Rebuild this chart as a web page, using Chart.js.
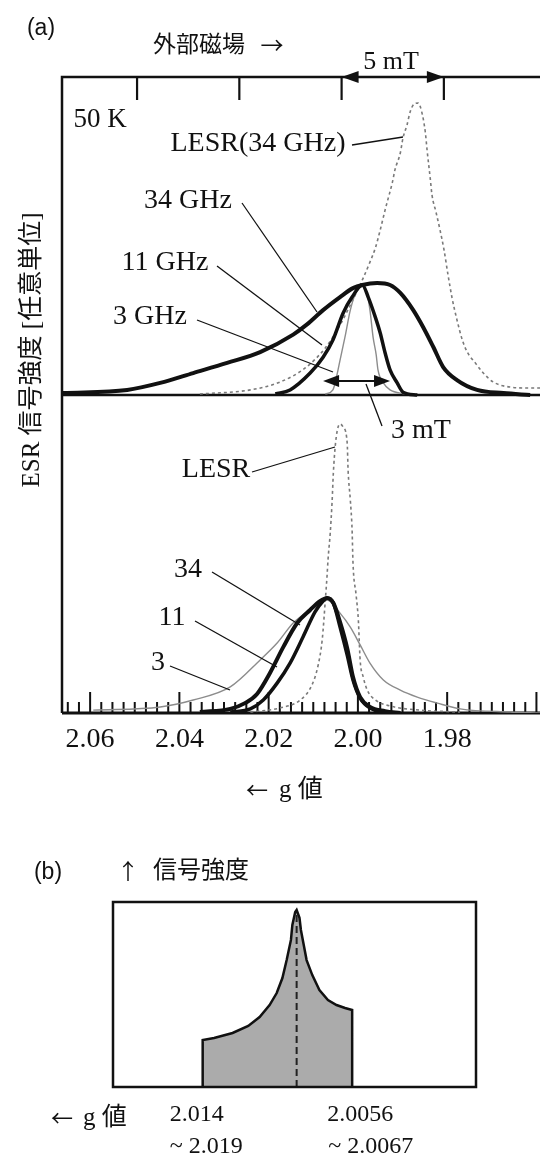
<!DOCTYPE html>
<html>
<head>
<meta charset="utf-8">
<script src="https://cdn.jsdelivr.net/npm/chart.js@4.4.1/dist/chart.umd.min.js"></script>
<style>
  body { margin: 0; background: #fff; }
  canvas { position: absolute; left: 0; }
  #chartA { top: 0; }
  #chartB { top: 820px; }
</style>
</head>
<body>
<canvas id="chartA" width="540" height="820"></canvas>
<canvas id="chartB" width="540" height="336"></canvas>
<script>
// (a) upper panel : g value / intensity (1 = top frame line)
let gLesrTop = [2.0354, 2.0241, 2.0174, 2.0118, 2.0073, 2.0040, 2.0017, 1.9990, 1.9973, 1.9961, 1.9950, 1.9939, 1.9932, 1.9923, 1.9917, 1.9905, 1.9899, 1.9890, 1.9883, 1.9874, 1.9865, 1.9858, 1.9849, 1.9845, 1.9838, 1.9834, 1.9825, 1.9816, 1.9807, 1.9798, 1.9789, 1.9778, 1.9766, 1.9755, 1.9737, 1.9719, 1.9697, 1.9659, 1.9614, 1.9592];
let vLesrTop = [0.003, 0.016, 0.041, 0.085, 0.148, 0.220, 0.283, 0.362, 0.418, 0.462, 0.519, 0.582, 0.619, 0.667, 0.708, 0.761, 0.808, 0.849, 0.890, 0.915, 0.918, 0.896, 0.827, 0.770, 0.682, 0.629, 0.575, 0.519, 0.456, 0.377, 0.305, 0.236, 0.173, 0.135, 0.101, 0.069, 0.041, 0.025, 0.022, 0.022];

let g34Top = [2.0661, 2.0517, 2.0443, 2.0369, 2.0293, 2.0219, 2.0145, 2.0114, 2.0078, 2.0040, 2.0011, 1.9990, 1.9957, 1.9928, 1.9905, 1.9876, 1.9854, 1.9831, 1.9809, 1.9778, 1.9733, 1.9674, 1.9614];
let v34Top = [0.006, 0.016, 0.038, 0.069, 0.101, 0.135, 0.190, 0.222, 0.267, 0.308, 0.336, 0.346, 0.352, 0.346, 0.321, 0.267, 0.214, 0.151, 0.088, 0.047, 0.016, 0.006, 0];

let g11Top = [2.0185, 2.0152, 2.0107, 2.0078, 2.0056, 2.0033, 2.0013, 1.9990, 1.9977, 1.9961, 1.9950, 1.9939, 1.9928, 1.9912, 1.9899, 1.9867];
let v11Top = [0.003, 0.016, 0.069, 0.119, 0.173, 0.258, 0.308, 0.346, 0.308, 0.245, 0.195, 0.132, 0.079, 0.038, 0.009, 0];

let g3Top = [2.0073, 2.0056, 2.0047, 2.0040, 2.0029, 2.0017, 2.0004, 1.9990, 1.9979, 1.9973, 1.9966, 1.9959, 1.9955, 1.9943, 1.9928, 1.9894];
let v3Top = [0.003, 0.016, 0.063, 0.110, 0.182, 0.267, 0.324, 0.346, 0.314, 0.267, 0.182, 0.126, 0.079, 0.038, 0.016, 0.003];

// (a) lower panel : intensity (1 = upper panel baseline)
let gLesrBot = [2.0241, 2.0174, 2.0129, 2.0103, 2.0089, 2.0080, 2.0073, 2.0069, 2.0067, 2.0062, 2.0058, 2.0055, 2.0051, 2.0046, 2.0040, 2.0033, 2.0024, 2.0022, 2.0017, 2.0013, 2.0011, 2.0004, 1.9999, 1.9995, 1.9988, 1.9979, 1.9961, 1.9928, 1.9861, 1.9771];
let vLesrBot = [0.003, 0.016, 0.041, 0.088, 0.151, 0.230, 0.355, 0.434, 0.481, 0.566, 0.660, 0.755, 0.836, 0.890, 0.909, 0.899, 0.849, 0.764, 0.670, 0.575, 0.472, 0.371, 0.292, 0.167, 0.113, 0.072, 0.041, 0.022, 0.009, 0.003];

let g34Bot = [2.0354, 2.0286, 2.0253, 2.0226, 2.0197, 2.0167, 2.0136, 2.0107, 2.0085, 2.0069, 2.0055, 2.0040, 2.0024, 2.0011, 1.9995, 1.9973, 1.9939, 1.9905];
let v34Bot = [0.003, 0.013, 0.031, 0.060, 0.126, 0.208, 0.283, 0.324, 0.352, 0.362, 0.346, 0.286, 0.204, 0.113, 0.050, 0.019, 0.006, 0];

let g11Bot = [2.0286, 2.0241, 2.0212, 2.0181, 2.0152, 2.0123, 2.0096, 2.0078, 2.0069, 2.0055, 2.0040, 2.0024, 2.0011, 1.9995, 1.9973, 1.9939, 1.9905];
let v11Bot = [0.003, 0.013, 0.041, 0.094, 0.157, 0.239, 0.318, 0.352, 0.362, 0.346, 0.270, 0.182, 0.104, 0.047, 0.016, 0.003, 0];

let g3Bot = [2.0593, 2.0443, 2.0369, 2.0286, 2.0219, 2.0181, 2.0145, 2.0107, 2.0069, 2.0040, 2.0017, 1.9995, 1.9973, 1.9943, 1.9905, 1.9867, 1.9822, 1.9771, 1.9659, 1.9592];
let v3Bot = [0.009, 0.019, 0.041, 0.082, 0.167, 0.220, 0.283, 0.324, 0.355, 0.314, 0.270, 0.214, 0.157, 0.104, 0.072, 0.050, 0.031, 0.013, 0.003, 0];

// axis ticks
let gTickLabels = [2.06, 2.04, 2.02, 2.00, 1.98];
let fieldTicks = [0, 5, 10, 15];   // mT offsets on top axis

// (b) powder pattern
let gShape = [2.0165, 2.0165, 2.0157, 2.0144, 2.0133, 2.0125, 2.0118, 2.0113, 2.0109, 2.0106, 2.0103, 2.0102, 2.0100, 2.0099, 2.0097, 2.0096, 2.0094, 2.0092, 2.0088, 2.0083, 2.0077, 2.0071, 2.0065, 2.0060, 2.0060];
let vShape = [0, 0.254, 0.265, 0.292, 0.330, 0.378, 0.443, 0.508, 0.589, 0.686, 0.795, 0.876, 0.946, 0.957, 0.914, 0.849, 0.768, 0.686, 0.605, 0.524, 0.470, 0.443, 0.427, 0.416, 0];
let gCenter = 2.0099;
let vCenter = [0, 0.93];

const SERIF = '"Liberation Serif", "Noto Sans CJK JP", serif';
const SANS = '"Liberation Sans", "Noto Sans CJK JP", sans-serif';
const CJK = '"Noto Sans CJK JP", sans-serif';
const INK = '#111';

function pts(gs, vs) {
  return gs.map((g, i) => ({ x: g, y: vs[i] }));
}

function curve(label, gs, vs, yAxis, color, width, dash) {
  return {
    label: label,
    data: pts(gs, vs),
    yAxisID: yAxis,
    borderColor: color,
    borderWidth: width,
    borderDash: dash || [],
    pointRadius: 0,
    fill: false,
    cubicInterpolationMode: 'monotone'
  };
}

function txt(ctx, s, x, y, size, family, align) {
  ctx.font = size + 'px ' + family;
  ctx.textAlign = align || 'center';
  ctx.textBaseline = 'middle';
  ctx.fillStyle = INK;
  ctx.fillText(s, x, y);
}

function seg(ctx, x1, y1, x2, y2) {
  ctx.beginPath();
  ctx.moveTo(x1, y1);
  ctx.lineTo(x2, y2);
  ctx.stroke();
}

function dblArrow(ctx, x1, x2, y, len, half) {
  ctx.lineWidth = 2.2;
  seg(ctx, x1 + len - 2, y, x2 - len + 2, y);
  ctx.beginPath();
  ctx.moveTo(x1, y); ctx.lineTo(x1 + len, y - half); ctx.lineTo(x1 + len, y + half); ctx.closePath();
  ctx.moveTo(x2, y); ctx.lineTo(x2 - len, y - half); ctx.lineTo(x2 - len, y + half); ctx.closePath();
  ctx.fill();
}

const frameA = {
  id: 'frameA',
  beforeDatasetsDraw(chart) {
    let ctx = chart.ctx;
    let a = chart.chartArea;
    let xG = chart.scales.x, xB = chart.scales.xB, yT = chart.scales.yTop;
    ctx.save();
    ctx.strokeStyle = INK;
    ctx.lineWidth = 2.5;
    ctx.beginPath();
    ctx.moveTo(a.left, a.bottom);
    ctx.lineTo(a.left, a.top);
    ctx.lineTo(a.right, a.top);
    ctx.stroke();
    // upper baseline
    ctx.lineWidth = 2.5;
    let y0 = yT.getPixelForValue(0);
    seg(ctx, a.left, y0, a.right, y0);
    // g axis
    ctx.lineWidth = 3;
    seg(ctx, a.left, a.bottom, a.right, a.bottom);
    ctx.lineWidth = 2;
    for (let i = 0; i <= 42; i++) {
      let g = 1.96 + i * 0.0025;
      let x = xG.getPixelForValue(g);
      if (x < a.left + 3) continue;
      let h = (i % 8 === 0) ? 21 : 11;
      seg(ctx, x, a.bottom, x, a.bottom - h);
    }
    // field ticks on top
    ctx.lineWidth = 2.2;
    fieldTicks.forEach(b => {
      let x = xB.getPixelForValue(b);
      seg(ctx, x, a.top, x, a.top + 23);
    });
    ctx.restore();
  },
  afterDatasetsDraw(chart) {
    let ctx = chart.ctx;
    let a = chart.chartArea;
    let xG = chart.scales.x, xB = chart.scales.xB;
    ctx.save();
    ctx.strokeStyle = INK;
    ctx.fillStyle = INK;

    // 5 mT arrow on the field axis
    dblArrow(ctx, xB.getPixelForValue(10), xB.getPixelForValue(15), a.top, 17, 6);
    // 3 mT arrow
    dblArrow(ctx, xG.getPixelForValue(2.0078), xG.getPixelForValue(1.9928), 381, 16, 6);

    // leaders
    ctx.lineWidth = 1.3;
    seg(ctx, 352, 145, 403, 137);
    seg(ctx, 242, 203, 317, 312);
    seg(ctx, 217, 266, 322, 345);
    seg(ctx, 197, 320, 333, 372);
    seg(ctx, 366, 384, 382, 426);
    seg(ctx, 252, 472, 335, 447);
    seg(ctx, 212, 572, 300, 625);
    seg(ctx, 195, 621, 277, 667);
    seg(ctx, 170, 666, 230, 690);

    txt(ctx, '(a)', 41, 29, 23, SANS);
    txt(ctx, '外部磁場', 199, 46, 23, SERIF);
    txt(ctx, '→', 272, 45, 23, CJK);
    txt(ctx, '5 mT', 391, 62, 26, SERIF);
    txt(ctx, '50 K', 100, 120, 27, SERIF);
    txt(ctx, 'LESR(34 GHz)', 258, 144, 28, SERIF);
    txt(ctx, '34 GHz', 188, 201, 28, SERIF);
    txt(ctx, '11 GHz', 165, 263, 28, SERIF);
    txt(ctx, '3 GHz', 150, 317, 28, SERIF);
    txt(ctx, '3 mT', 421, 431, 28, SERIF);
    txt(ctx, 'LESR', 216, 470, 28, SERIF);
    txt(ctx, '34', 188, 570, 28, SERIF);
    txt(ctx, '11', 172, 618, 28, SERIF);
    txt(ctx, '3', 158, 663, 28, SERIF);

    gTickLabels.forEach(g => {
      txt(ctx, g.toFixed(2), xG.getPixelForValue(g), a.bottom + 27, 28, SERIF);
    });
    txt(ctx, '←', 257, 790, 22, CJK);
    txt(ctx, 'g 値', 301, 790, 25, SERIF);

    ctx.save();
    ctx.translate(32, 350);
    ctx.rotate(-Math.PI / 2);
    txt(ctx, 'ESR 信号強度 [任意単位]', 0, 0, 25, SERIF);
    ctx.restore();
    ctx.restore();
  }
};

new Chart(document.getElementById('chartA'), {
  type: 'line',
  data: {
    datasets: [
      curve('34 GHz', g34Top, v34Top, 'yTop', INK, 4),
      curve('11 GHz', g11Top, v11Top, 'yTop', INK, 3.5),
      curve('3 GHz', g3Top, v3Top, 'yTop', '#8c8c8c', 1.4),
      curve('LESR(34 GHz)', gLesrTop, vLesrTop, 'yTop', '#7a7a7a', 1.6, [3, 3]),
      curve('34', g34Bot, v34Bot, 'yBot', INK, 4),
      curve('11', g11Bot, v11Bot, 'yBot', INK, 3.5),
      curve('3', g3Bot, v3Bot, 'yBot', '#8c8c8c', 1.4),
      curve('LESR', gLesrBot, vLesrBot, 'yBot', '#7a7a7a', 1.6, [3, 3])
    ]
  },
  options: {
    responsive: false,
    animation: false,
    layout: { padding: { left: 62, top: 77, right: 0, bottom: 107 } },
    plugins: { legend: { display: false }, tooltip: { enabled: false } },
    scales: {
      x: { type: 'linear', reverse: true, min: 1.9592, max: 2.0663, display: false },
      xB: { type: 'linear', position: 'top', min: -3.67, max: 19.70, display: false },
      yTop: { type: 'linear', min: -1, max: 1, display: false },
      yBot: { type: 'linear', min: 0, max: 2, display: false }
    }
  },
  plugins: [frameA]
});

const frameB = {
  id: 'frameB',
  afterDatasetsDraw(chart) {
    let ctx = chart.ctx;
    let a = chart.chartArea;
    let xG = chart.scales.x;
    ctx.save();
    ctx.strokeStyle = INK;
    ctx.lineWidth = 2.5;
    ctx.strokeRect(a.left, a.top, a.right - a.left, a.bottom - a.top);

    txt(ctx, '(b)', 48, 53, 23, SANS);
    txt(ctx, '↑', 128, 51, 22, CJK);
    txt(ctx, '信号強度', 201, 52, 24, SERIF);
    txt(ctx, '←', 62, 298, 22, CJK);
    txt(ctx, 'g 値', 105, 298, 25, SERIF);
    let xL = xG.getPixelForValue(gShape[0]);
    let xR = xG.getPixelForValue(gShape[gShape.length - 1]);
    txt(ctx, '2.014', xL - 33, 295, 24, SERIF, 'left');
    txt(ctx, '~ 2.019', xL - 33, 327, 24, SERIF, 'left');
    txt(ctx, '2.0056', xR - 25, 295, 24, SERIF, 'left');
    txt(ctx, '~ 2.0067', xR - 24, 327, 24, SERIF, 'left');
    ctx.restore();
  }
};

new Chart(document.getElementById('chartB'), {
  type: 'line',
  data: {
    datasets: [
      {
        label: 'center',
        data: vCenter.map(v => ({ x: gCenter, y: v })),
        borderColor: '#222',
        borderWidth: 2,
        borderDash: [7, 4],
        pointRadius: 0,
        fill: false
      },
      {
        label: 'powder',
        data: pts(gShape, vShape),
        borderColor: INK,
        borderWidth: 2.5,
        backgroundColor: '#ababab',
        pointRadius: 0,
        tension: 0,
        fill: 'origin'
      }
    ]
  },
  options: {
    responsive: false,
    animation: false,
    layout: { padding: { left: 113, top: 82, right: 64, bottom: 69 } },
    plugins: { legend: { display: false }, tooltip: { enabled: false } },
    scales: {
      x: { type: 'linear', reverse: true, min: 1.9973, max: 2.0228, display: false },
      y: { type: 'linear', min: 0, max: 1, display: false }
    }
  },
  plugins: [frameB]
});
</script>
</body>
</html>
